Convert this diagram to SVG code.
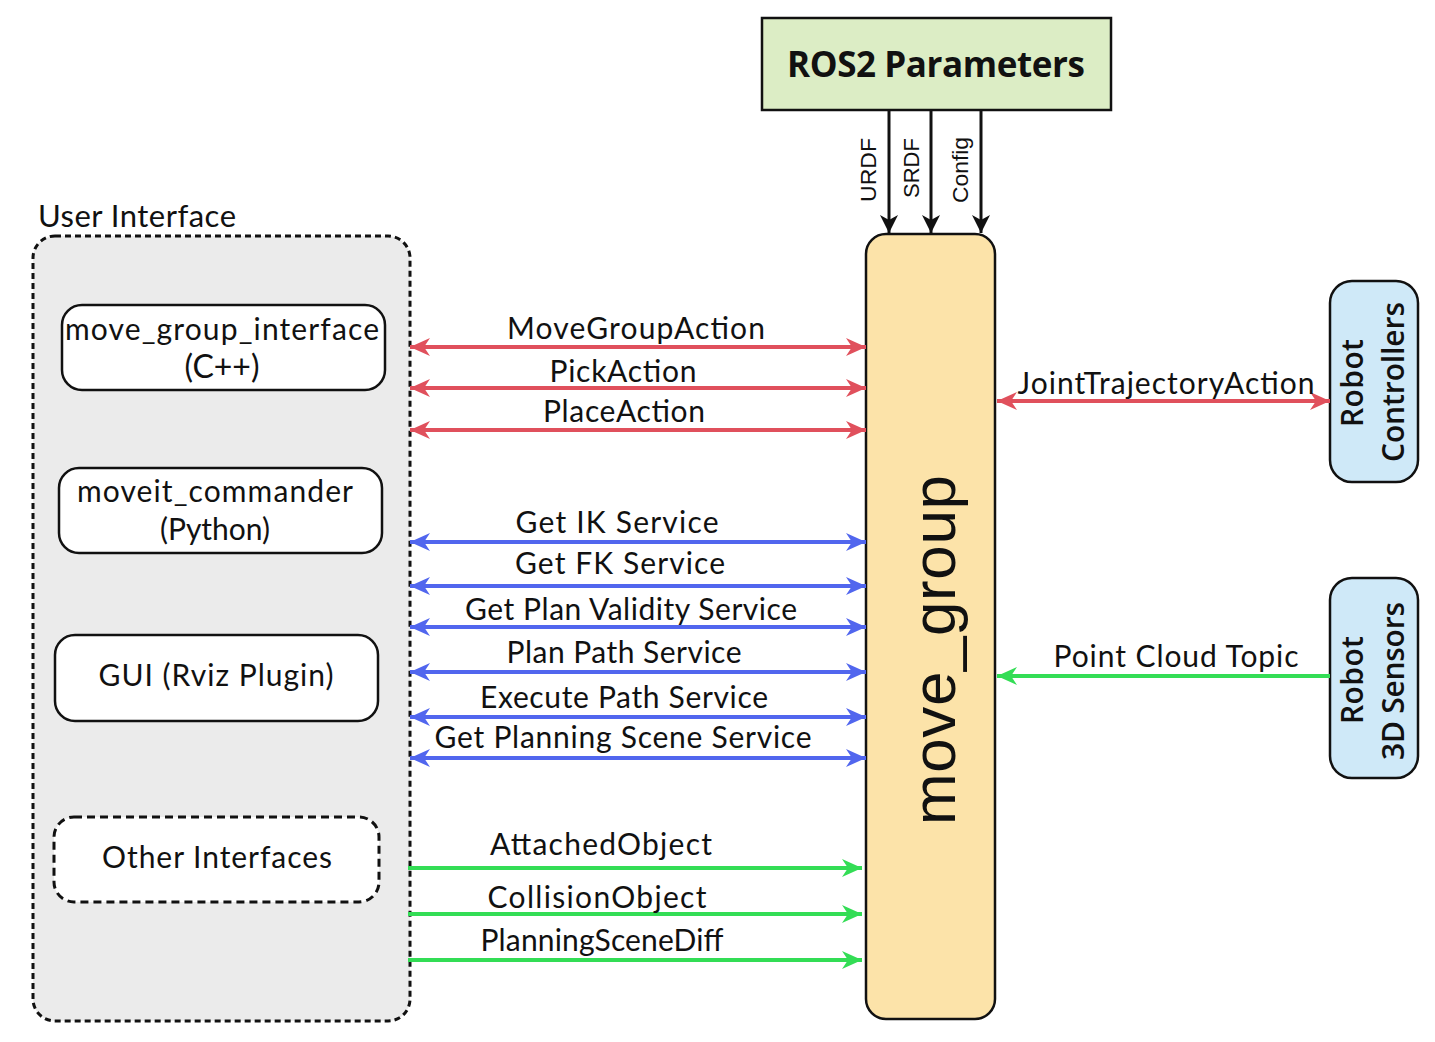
<svg xmlns="http://www.w3.org/2000/svg" width="1435" height="1042" viewBox="0 0 1435 1042">
<defs>
<style>
.lbl{font-family:"Lato","Liberation Sans",sans-serif;font-size:30px;fill:#111;text-anchor:middle}
.node{fill:#fff;stroke:#111;stroke-width:2.5}
.red{stroke:#e0505c;stroke-width:4;fill:none}
.blue{stroke:#5166ee;stroke-width:4;fill:none}
.green{stroke:#33dd55;stroke-width:4;fill:none}
.blk{stroke:#111;stroke-width:3;fill:none}
.rot{font-family:"Liberation Sans",sans-serif;font-size:22px;fill:#111;text-anchor:middle}
.robot{font-family:"Open Sans","Liberation Sans",sans-serif;font-weight:600;font-size:30px;fill:#111;text-anchor:middle}
</style>
<marker id="mr" viewBox="0 0 20 18" refX="20" refY="9" markerWidth="20" markerHeight="18" markerUnits="userSpaceOnUse" orient="auto-start-reverse"><path d="M20,9 L0,0 L6,9 L0,18 Z" fill="#e0505c"/></marker>
<marker id="mb" viewBox="0 0 20 18" refX="20" refY="9" markerWidth="20" markerHeight="18" markerUnits="userSpaceOnUse" orient="auto-start-reverse"><path d="M20,9 L0,0 L6,9 L0,18 Z" fill="#5166ee"/></marker>
<marker id="mg" viewBox="0 0 20 18" refX="20" refY="9" markerWidth="20" markerHeight="18" markerUnits="userSpaceOnUse" orient="auto-start-reverse"><path d="M20,9 L0,0 L6,9 L0,18 Z" fill="#33dd55"/></marker>
<marker id="mk" viewBox="0 0 18 18" refX="18" refY="9" markerWidth="18" markerHeight="18" markerUnits="userSpaceOnUse" orient="auto"><path d="M18,9 L0,0 L5,9 L0,18 Z" fill="#111"/></marker>
</defs>
<rect width="1435" height="1042" fill="#fff"/>

<g id="user-interface">
<rect x="33" y="236" width="377" height="785" rx="22" fill="#ebebeb" stroke="#111" stroke-width="3" stroke-dasharray="6 4"/>
<text x="38" y="227" style="font-family:Lato,'Liberation Sans',sans-serif;font-size:31px;fill:#111" textLength="198">User Interface</text>
</g>

<g id="move-group-interface">
<rect class="node" x="62" y="305" width="323" height="85" rx="20"/>
<text class="lbl" x="222" y="340" textLength="314">move_group_interface</text>
<text class="lbl" x="222" y="378" style="font-size:32px">(C++)</text>
</g>

<g id="moveit-commander">
<rect class="node" x="59" y="468" width="323" height="85" rx="20"/>
<text class="lbl" x="215" y="502" textLength="276">moveit_commander</text>
<text class="lbl" x="215" y="540">(Python)</text>
</g>

<g id="gui-rviz">
<rect class="node" x="55" y="635" width="323" height="86" rx="20"/>
<text class="lbl" x="216" y="686" textLength="235">GUI (Rviz Plugin)</text>
</g>

<g id="other-interfaces">
<rect x="54" y="817" width="325" height="85" rx="20" fill="#fff" stroke="#111" stroke-width="3" stroke-dasharray="8 5"/>
<text class="lbl" x="217" y="868" textLength="230">Other Interfaces</text>
</g>

<g id="ros2-parameters">
<rect x="762" y="18" width="349" height="92" fill="#dcedc5" stroke="#111" stroke-width="2.5"/>
<text x="936" y="77" style="font-family:'Open Sans','Liberation Sans',sans-serif;font-weight:700;font-size:35px;fill:#111;text-anchor:middle" textLength="298">ROS2 Parameters</text>
</g>

<g id="move-group">
<rect x="866" y="234" width="129" height="785" rx="20" fill="#fce3a9" stroke="#111" stroke-width="2.5"/>
<text transform="translate(955,650) rotate(-90)" x="0" y="0" style="font-family:'Liberation Sans',sans-serif;font-size:62px;fill:#111;text-anchor:middle" textLength="350">move_group</text>
</g>

<g id="robot-controllers">
<rect x="1330" y="281" width="88" height="201" rx="22" fill="#cfe9f8" stroke="#111" stroke-width="2.5"/>
<text class="robot" transform="translate(1363,383) rotate(-90)" textLength="88">Robot</text>
<text class="robot" transform="translate(1404,382) rotate(-90)" textLength="160">Controllers</text>
</g>

<g id="robot-3d-sensors">
<rect x="1330" y="578" width="88" height="200" rx="22" fill="#cfe9f8" stroke="#111" stroke-width="2.5"/>
<text class="robot" transform="translate(1363,680) rotate(-90)" textLength="88">Robot</text>
<text class="robot" transform="translate(1404,681) rotate(-90)" textLength="158">3D Sensors</text>
</g>

<g id="connectors">
<line class="blk" x1="889" y1="110" x2="889" y2="233" marker-end="url(#mk)"/>
<line class="blk" x1="931" y1="110" x2="931" y2="233" marker-end="url(#mk)"/>
<line class="blk" x1="981" y1="110" x2="981" y2="233" marker-end="url(#mk)"/>
<text class="rot" transform="translate(876,170) rotate(-90)" textLength="64" lengthAdjust="spacingAndGlyphs">URDF</text>
<text class="rot" transform="translate(919,168) rotate(-90)" textLength="60" lengthAdjust="spacingAndGlyphs">SRDF</text>
<text class="rot" transform="translate(968,170) rotate(-90)" textLength="66" lengthAdjust="spacingAndGlyphs">Config</text>

<line class="red" x1="410" y1="347" x2="866" y2="347" marker-start="url(#mr)" marker-end="url(#mr)"/>
<line class="red" x1="410" y1="388" x2="866" y2="388" marker-start="url(#mr)" marker-end="url(#mr)"/>
<line class="red" x1="410" y1="430" x2="866" y2="430" marker-start="url(#mr)" marker-end="url(#mr)"/>
<text class="lbl" x="636" y="339" textLength="258">MoveGroupAction</text>
<text class="lbl" x="623" y="382" textLength="147">PickAction</text>
<text class="lbl" x="624" y="422" textLength="162">PlaceAction</text>

<line class="blue" x1="410" y1="542" x2="866" y2="542" marker-start="url(#mb)" marker-end="url(#mb)"/>
<line class="blue" x1="410" y1="586" x2="866" y2="586" marker-start="url(#mb)" marker-end="url(#mb)"/>
<line class="blue" x1="410" y1="627" x2="866" y2="627" marker-start="url(#mb)" marker-end="url(#mb)"/>
<line class="blue" x1="410" y1="672" x2="866" y2="672" marker-start="url(#mb)" marker-end="url(#mb)"/>
<line class="blue" x1="410" y1="717" x2="866" y2="717" marker-start="url(#mb)" marker-end="url(#mb)"/>
<line class="blue" x1="410" y1="758" x2="866" y2="758" marker-start="url(#mb)" marker-end="url(#mb)"/>
<text class="lbl" x="617" y="533" textLength="203">Get IK Service</text>
<text class="lbl" x="620" y="574" textLength="210">Get FK Service</text>
<text class="lbl" x="631" y="620" textLength="332">Get Plan Validity Service</text>
<text class="lbl" x="624" y="663" textLength="235">Plan Path Service</text>
<text class="lbl" x="624" y="708" textLength="288">Execute Path Service</text>
<text class="lbl" x="623" y="748" textLength="377">Get Planning Scene Service</text>

<line class="green" x1="408" y1="868" x2="862" y2="868" marker-end="url(#mg)"/>
<line class="green" x1="408" y1="914" x2="862" y2="914" marker-end="url(#mg)"/>
<line class="green" x1="408" y1="960" x2="862" y2="960" marker-end="url(#mg)"/>
<text class="lbl" x="601" y="855" textLength="222">AttachedObject</text>
<text class="lbl" x="597" y="908" textLength="219">CollisionObject</text>
<text class="lbl" x="602" y="951" textLength="243">PlanningSceneDiff</text>

<line class="red" x1="997" y1="401" x2="1330" y2="401" marker-start="url(#mr)" marker-end="url(#mr)"/>
<text class="lbl" x="1166" y="394" textLength="297">JointTrajectoryAction</text>

<line class="green" x1="1330" y1="676" x2="997" y2="676" marker-end="url(#mg)"/>
<text class="lbl" x="1176" y="667" textLength="245">Point Cloud Topic</text>
</g>
</svg>
